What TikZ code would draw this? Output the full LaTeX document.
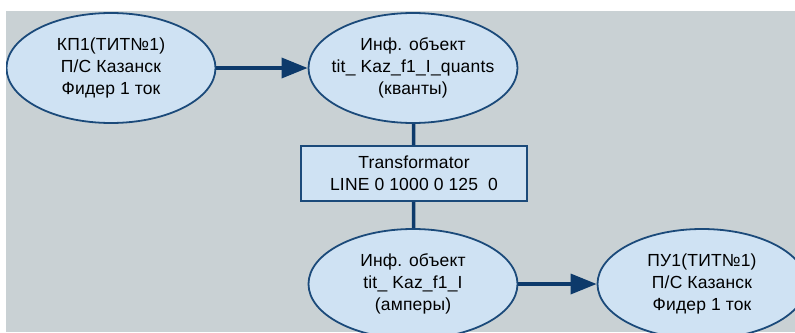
\documentclass[tikz,border=0pt]{standalone}
\usepackage{fontspec}
\setmainfont{Liberation Sans}[LetterSpace=1]
\usetikzlibrary{shapes.geometric,arrows.meta}
\definecolor{bgcol}{HTML}{C9D1D4}
\definecolor{fillcol}{HTML}{CFE2F3}
\definecolor{edgecol}{HTML}{1B4A7A}
\definecolor{linecol}{HTML}{0D3A6B}
\tikzset{
  x=1pt,y=-1pt,
  obj/.style={ellipse,draw=edgecol,line width=1.8pt,fill=fillcol,minimum width=209pt,minimum height=110pt,inner xsep=-20pt,inner ysep=0pt,align=center,font=\fontsize{17.5}{22}\selectfont},
  xform/.style={rectangle,draw=edgecol,line width=1.8pt,fill=fillcol,minimum width=226pt,minimum height=55pt,inner sep=0pt,align=center,font=\fontsize{17.5}{22}\selectfont},
  conn/.style={draw=linecol,line width=3.5pt},
  arr/.style={conn,-{Triangle[length=26pt,width=20pt]}}
}
\begin{document}
\begin{tikzpicture}
\useasboundingbox (0,0) rectangle (795,332);
\fill[white] (0,0) rectangle (795,332);
\fill[bgcol] (6,11) rectangle (795,332);
\clip (6,11) rectangle (795,332);
\node[obj] (kp) at (111,68) {КП1(ТИТ№1)\\П/С Казанск\\Фидер 1 ток};
\node[obj] (q) at (413,68) {Инф. объект\\tit\_ Kaz\_f1\_I\_quants\\(кванты)};
\node[xform] (tr) at (414,173.5) {Transformator\\LINE 0 1000 0 125\ \ 0};
\node[obj] (a) at (413,284) {Инф. объект\\tit\_ Kaz\_f1\_I\\(амперы)};
\node[obj] (pu) at (702,284) {ПУ1(ТИТ№1)\\П/С Казанск\\Фидер 1 ток};
\draw[arr] (kp) -- (q);
\draw[conn] (q) -- (tr);
\draw[conn] (tr) -- (a);
\draw[arr] (a) -- (pu);
\end{tikzpicture}
\end{document}
